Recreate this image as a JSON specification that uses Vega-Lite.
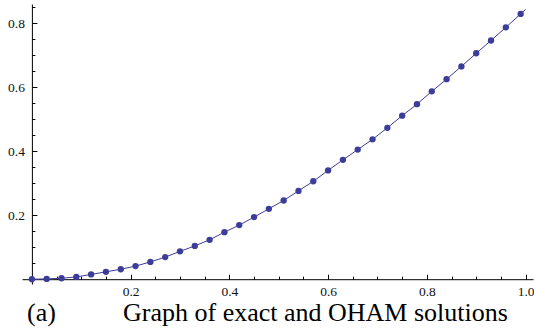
{
  "$schema": "https://vega.github.io/schema/vega-lite/v6.json",
  "width": 511,
  "height": 280,
  "autosize": {"type": "none"},
  "padding": {"left": 22, "top": 4, "right": 1, "bottom": 50},
  "background": "white",
  "config": {
    "view": {"stroke": null},
    "axis": {
      "grid": false,
      "labelFont": "Liberation Serif",
      "labelFontSize": 13.5,
      "labelColor": "#111111",
      "domainColor": "#000000",
      "tickColor": "#000000",
      "domainWidth": 1,
      "tickWidth": 1
    }
  },
  "title": {
    "text": "(a)\u00a0\u00a0\u00a0\u00a0\u00a0\u00a0\u00a0\u00a0\u00a0\u00a0\u200aGraph of exact and OHAM solutions",
    "orient": "bottom",
    "anchor": "start",
    "frame": "group",
    "font": "Liberation Serif",
    "fontSize": 26,
    "fontWeight": "normal",
    "color": "#000000",
    "dx": 5,
    "offset": 2
  },
  "datasets": {
    "exact": [
      {"x": 0, "y": 0}, {"x": 0.03, "y": 0.001}, {"x": 0.06, "y": 0.003}, {"x": 0.09, "y": 0.007},
      {"x": 0.12, "y": 0.015}, {"x": 0.15, "y": 0.023}, {"x": 0.18, "y": 0.031}, {"x": 0.21, "y": 0.041},
      {"x": 0.24, "y": 0.054}, {"x": 0.27, "y": 0.069}, {"x": 0.30, "y": 0.087}, {"x": 0.33, "y": 0.104},
      {"x": 0.36, "y": 0.123}, {"x": 0.39, "y": 0.147}, {"x": 0.42, "y": 0.169}, {"x": 0.45, "y": 0.194},
      {"x": 0.48, "y": 0.220}, {"x": 0.51, "y": 0.246}, {"x": 0.54, "y": 0.276}, {"x": 0.57, "y": 0.306},
      {"x": 0.60, "y": 0.340}, {"x": 0.63, "y": 0.373}, {"x": 0.66, "y": 0.405}, {"x": 0.69, "y": 0.437},
      {"x": 0.72, "y": 0.473}, {"x": 0.75, "y": 0.511}, {"x": 0.78, "y": 0.547}, {"x": 0.81, "y": 0.587},
      {"x": 0.84, "y": 0.625}, {"x": 0.87, "y": 0.665}, {"x": 0.90, "y": 0.706}, {"x": 0.93, "y": 0.746},
      {"x": 0.96, "y": 0.787}, {"x": 0.99, "y": 0.829}, {"x": 1.0, "y": 0.843}
    ],
    "oham": [
      {"x": 0, "y": 0}, {"x": 0.03, "y": 0.001}, {"x": 0.06, "y": 0.003}, {"x": 0.09, "y": 0.007},
      {"x": 0.12, "y": 0.015}, {"x": 0.15, "y": 0.023}, {"x": 0.18, "y": 0.031}, {"x": 0.21, "y": 0.041},
      {"x": 0.24, "y": 0.054}, {"x": 0.27, "y": 0.069}, {"x": 0.30, "y": 0.087}, {"x": 0.33, "y": 0.104},
      {"x": 0.36, "y": 0.123}, {"x": 0.39, "y": 0.147}, {"x": 0.42, "y": 0.169}, {"x": 0.45, "y": 0.194},
      {"x": 0.48, "y": 0.220}, {"x": 0.51, "y": 0.246}, {"x": 0.54, "y": 0.276}, {"x": 0.57, "y": 0.306},
      {"x": 0.60, "y": 0.340}, {"x": 0.63, "y": 0.373}, {"x": 0.66, "y": 0.405}, {"x": 0.69, "y": 0.437},
      {"x": 0.72, "y": 0.473}, {"x": 0.75, "y": 0.511}, {"x": 0.78, "y": 0.547}, {"x": 0.81, "y": 0.587},
      {"x": 0.84, "y": 0.625}, {"x": 0.87, "y": 0.665}, {"x": 0.90, "y": 0.706}, {"x": 0.93, "y": 0.746},
      {"x": 0.96, "y": 0.787}, {"x": 0.99, "y": 0.829}
    ]
  },
  "layer": [
    {
      "data": {"name": "exact"},
      "mark": {"type": "line", "color": "#3d3d99", "strokeWidth": 1},
      "encoding": {
        "x": {
          "field": "x", "type": "quantitative",
          "scale": {"domain": [-0.02, 1.015], "nice": false, "zero": false},
          "axis": {"orient": "bottom", "offset": -4.8, "title": null, "labels": false, "tickSize": -3, "domain": true,
                   "tickColor": "#000000", "domainColor": "#000000",
                   "values": [0.05, 0.1, 0.15, 0.25, 0.3, 0.35, 0.45, 0.5, 0.55, 0.65, 0.7, 0.75, 0.85, 0.9, 0.95]}
        },
        "y": {
          "field": "y", "type": "quantitative",
          "scale": {"domain": [-0.015, 0.86], "nice": false, "zero": false},
          "axis": {"orient": "left", "offset": -9.9, "title": null, "labels": false, "tickSize": -3, "domain": true,
                   "tickColor": "#000000", "domainColor": "#000000",
                   "values": [0.05, 0.1, 0.15, 0.25, 0.3, 0.35, 0.45, 0.5, 0.55, 0.65, 0.7, 0.75, 0.85]}
        }
      }
    },
    {
      "data": {"name": "oham"},
      "mark": {"type": "point", "filled": true, "size": 40, "color": "#3d3d99", "opacity": 1},
      "encoding": {
        "x": {
          "field": "x", "type": "quantitative",
          "axis": {"orient": "bottom", "offset": -4.8, "title": null, "tickSize": -5, "domain": false,
                   "labelFont": "Liberation Serif", "labelFontSize": 13.5, "labelColor": "#111111", "tickColor": "#000000",
                   "labelPadding": 10.5, "format": ".1f", "values": [0.2, 0.4, 0.6, 0.8, 1.0]}
        },
        "y": {
          "field": "y", "type": "quantitative",
          "axis": {"orient": "left", "offset": -9.9, "title": null, "tickSize": -5, "domain": false,
                   "labelFont": "Liberation Serif", "labelFontSize": 13.5, "labelColor": "#111111", "tickColor": "#000000",
                   "labelPadding": 12.5, "format": ".1f", "values": [0.2, 0.4, 0.6, 0.8]}
        }
      }
    }
  ],
  "resolve": {"axis": {"x": "independent", "y": "independent"}}
}
